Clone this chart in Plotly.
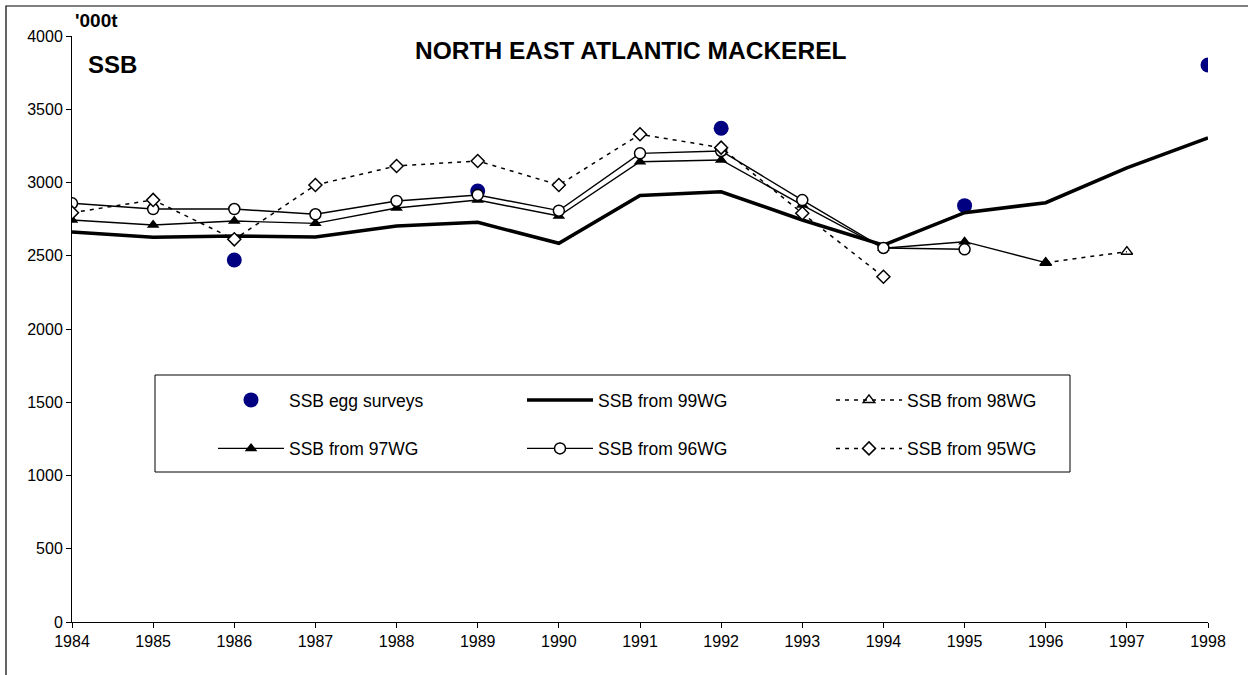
import plotly.graph_objects as go

years = list(range(1984, 1999))

egg_years = [1986, 1989, 1992, 1995, 1998]
egg_ssb = [2471, 2942, 3370, 2842, 3802]

wg99_years = list(range(1984, 1999))
wg99_ssb = [2662, 2626, 2635, 2628, 2703, 2728, 2585, 2912, 2937, 2744, 2573, 2794, 2862, 3100, 3304]

wg98_years = [1996, 1997]
wg98_ssb = [2453, 2528]

wg97_years = list(range(1984, 1997))
wg97_ssb = [2744, 2710, 2737, 2721, 2826, 2880, 2771, 3142, 3154, 2846, 2551, 2596, 2453]

wg96_years = list(range(1984, 1996))
wg96_ssb = [2858, 2819, 2819, 2783, 2874, 2915, 2808, 3199, 3215, 2880, 2553, 2544]

wg95_years = list(range(1984, 1995))
wg95_ssb = [2794, 2881, 2612, 2983, 3113, 3147, 2983, 3329, 3238, 2790, 2357]

y_ticks = [0, 500, 1000, 1500, 2000, 2500, 3000, 3500, 4000]

FONT = "Arial, 'Liberation Sans', sans-serif"


def nm(s):
    # second blank line gives the legend rows their taller spacing
    return s + "<br>&nbsp;"


fig = go.Figure()
fig.add_trace(go.Scatter(x=egg_years, y=egg_ssb, mode="markers", name=nm("SSB egg surveys"),
                         marker=dict(size=15, color="#000080")))
fig.add_trace(go.Scatter(x=wg99_years, y=wg99_ssb, mode="lines", name=nm("SSB from 99WG"),
                         line=dict(color="black", width=3.5)))
fig.add_trace(go.Scatter(x=wg98_years, y=wg98_ssb, mode="lines+markers", name=nm("SSB from 98WG"),
                         line=dict(color="black", width=1.5, dash="4px,5px"),
                         marker=dict(symbol="triangle-up-open", size=10, color="black",
                                     line=dict(width=1.5, color="black"))))
fig.add_trace(go.Scatter(x=wg97_years, y=wg97_ssb, mode="lines+markers", name=nm("SSB from 97WG"),
                         line=dict(color="black", width=1.4),
                         marker=dict(symbol="triangle-up", size=11, color="black")))
fig.add_trace(go.Scatter(x=wg96_years, y=wg96_ssb, mode="lines+markers", name=nm("SSB from 96WG"),
                         line=dict(color="black", width=1.4),
                         marker=dict(symbol="circle", size=11, color="white",
                                     line=dict(width=1.5, color="black"))))
fig.add_trace(go.Scatter(x=wg95_years, y=wg95_ssb, mode="lines+markers", name=nm("SSB from 95WG"),
                         line=dict(color="black", width=1.5, dash="4px,5px"),
                         marker=dict(symbol="diamond", size=10, color="white",
                                     line=dict(width=1.5, color="black"))))

L, R, T, B = 72, 1208, 36, 622
PW, PH = R - L, B - T


def px_x(p):
    return (p - L) / PW


def px_y(p):
    return (B - p) / PH


fig.update_layout(
    width=1248, height=675,
    margin=dict(l=L, r=1248 - R, t=T, b=675 - B, autoexpand=False),
    paper_bgcolor="white", plot_bgcolor="white",
    font=dict(family=FONT, size=16, color="black"),
    showlegend=True,
    legend=dict(orientation="h", x=px_x(213), y=px_y(382), xanchor="left", yanchor="top",
                bgcolor="rgba(0,0,0,0)", borderwidth=0, valign="top",
                entrywidth=228, entrywidthmode="pixels", itemwidth=66,
                font=dict(family=FONT, size=17.5, color="black"), traceorder="normal"),
    xaxis=dict(range=[1984, 1998], tickmode="array", tickvals=years,
               ticktext=[str(y) for y in years], showgrid=False, zeroline=False,
               showline=True, linecolor="black", linewidth=1, ticks="outside",
               ticklen=5, tickcolor="black", tickfont=dict(size=16)),
    yaxis=dict(range=[0, 4000], tickmode="array", tickvals=y_ticks, showgrid=False,
               zeroline=False, showline=True, linecolor="black", linewidth=1,
               ticks="outside", ticklen=5, tickcolor="black", tickfont=dict(size=16)),
    annotations=[
        dict(text="<b>NORTH EAST ATLANTIC MACKEREL</b>", xref="paper", yref="paper",
             x=px_x(630), y=px_y(50), xanchor="center", yanchor="middle", showarrow=False,
             font=dict(size=24.5, family=FONT)),
        dict(text="<b>SSB</b>", xref="paper", yref="paper", x=px_x(86), y=px_y(64),
             xanchor="left", yanchor="middle", showarrow=False, font=dict(size=24, family=FONT)),
        dict(text="<b>'000t</b>", xref="paper", yref="paper", x=px_x(73), y=px_y(20),
             xanchor="left", yanchor="middle", showarrow=False, font=dict(size=19, family=FONT)),
    ],
    shapes=[
        dict(type="rect", xref="paper", yref="paper", x0=px_x(6), x1=px_x(1260),
             y0=px_y(690), y1=px_y(6), line=dict(color="black", width=1.2),
             fillcolor="rgba(0,0,0,0)", layer="below"),
        dict(type="rect", xref="paper", yref="paper", x0=px_x(155), x1=px_x(1070),
             y0=px_y(472), y1=px_y(375), line=dict(color="black", width=1),
             fillcolor="white", layer="above"),
    ],
)

fig.write_html("out.html", config={"displayModeBar": False},
               post_script="document.body.style.margin='0';")
